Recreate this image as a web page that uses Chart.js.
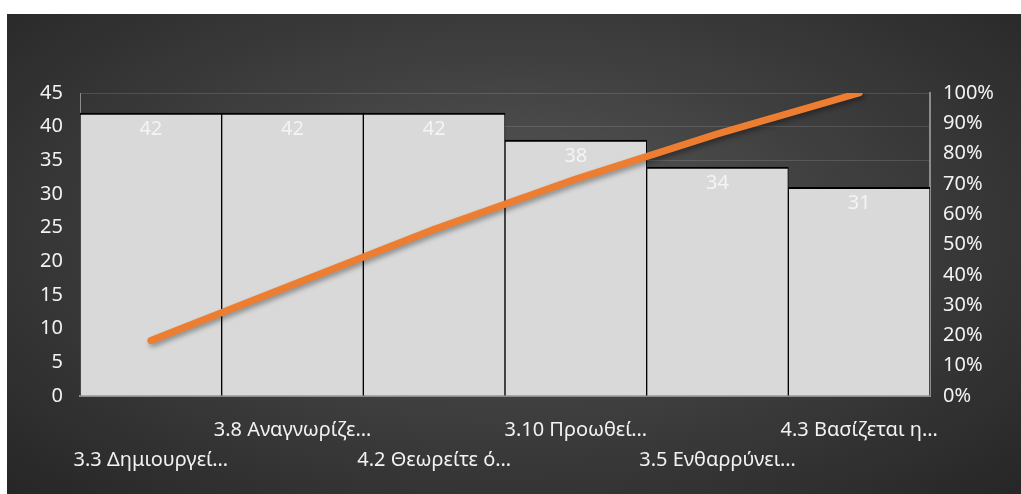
<!DOCTYPE html>
<html>
<head>
<meta charset="utf-8">
<script src="https://cdn.jsdelivr.net/npm/chart.js@4"></script>
<style>
    body { margin: 0; background: #fff; }
    #box {
        position: absolute; left: 7px; top: 14px; width: 1014px; height: 480px;
        background: radial-gradient(ellipse at 50% 45%, #5a5a5a 0%, #404040 45%, #262626 100%);
    }
</style>
</head>
<body>
<div id="box"><canvas id="pareto" width="1014" height="480"></canvas></div>
<script>
// categories (long names are cut off the same way in the chart)
const categories = ['3.3 Δημιουργεί…', '3.8 Αναγνωρίζε…', '4.2 Θεωρείτε ό…', '3.10 Προωθεί…', '3.5 Ενθαρρύνει…', '4.3 Βασίζεται η…'];
// counts per item
const counts = [42, 42, 42, 38, 34, 31];
// running share of the total, 0..1
const cumulative = [0.183, 0.367, 0.550, 0.716, 0.865, 1.0];
// axis ticks
const leftTicks = { min: 0, max: 45, step: 5 };
const rightTicks = { min: 0, max: 1, step: 0.1 };

Chart.defaults.font.family = "'Noto Sans', sans-serif";
Chart.defaults.font.size = 20;
Chart.defaults.color = '#f2f2f2';

// every other label goes on a second line so the long names don't collide
const xLabels = categories.map((c, i) => i % 2 === 0 ? ['', c] : [c]);

// value labels inside the top of each bar
const barValues = {
    id: 'barValues',
    afterDatasetDraw(chart, args) {
        if (args.index !== 0) return;
        const ctx = chart.ctx;
        ctx.save();
        ctx.fillStyle = '#f4f4f4';
        ctx.font = "20px 'Noto Sans', sans-serif";
        ctx.textAlign = 'center';
        ctx.textBaseline = 'middle';
        args.meta.data.forEach((bar, i) => {
            ctx.fillText(counts[i], bar.x, bar.y + 16);
        });
        ctx.restore();
    }
};

// soft shadow under the orange line
const lineShadow = {
    id: 'lineShadow',
    beforeDatasetDraw(chart, args) {
        if (args.index !== 1) return;
        const ctx = chart.ctx;
        ctx.save();
        ctx.shadowColor = 'rgba(0,0,0,0.35)';
        ctx.shadowBlur = 5;
        ctx.shadowOffsetX = 2;
        ctx.shadowOffsetY = 3;
    },
    afterDatasetDraw(chart, args) {
        if (args.index !== 1) return;
        chart.ctx.restore();
    }
};

new Chart(document.getElementById('pareto'), {
    type: 'bar',
    data: {
        labels: xLabels,
        datasets: [
            {
                type: 'bar',
                data: counts,
                backgroundColor: '#d9d9d9',
                borderColor: '#000',
                borderWidth: { top: 2, left: 1, right: 1, bottom: 0 },
                borderSkipped: false,
                categoryPercentage: 1,
                barPercentage: 1,
                yAxisID: 'y',
                order: 1
            },
            {
                type: 'line',
                data: cumulative,
                borderColor: '#ed7d31',
                borderWidth: 7,
                borderCapStyle: 'round',
                borderJoinStyle: 'round',
                pointRadius: 0,
                tension: 0,
                yAxisID: 'y1',
                order: 0
            }
        ]
    },
    options: {
        responsive: false,
        animation: false,
        devicePixelRatio: 1,
        layout: { padding: { top: 79, left: 0, right: 0, bottom: 0 } },
        plugins: { legend: { display: false }, tooltip: { enabled: false } },
        scales: {
            x: {
                grid: { display: false, drawTicks: false },
                border: { color: '#8c8c8c', width: 2 },
                ticks: { autoSkip: false, maxRotation: 0, minRotation: 0, padding: 19,
                         font: { size: 20, lineHeight: 30 / 20 } },
                afterFit: scale => { scale.height = 98; }
            },
            y: {
                position: 'left',
                min: leftTicks.min, max: leftTicks.max,
                grid: { color: 'rgba(255,255,255,0.13)', drawTicks: false },
                border: { color: '#8c8c8c', width: 1 },
                ticks: { stepSize: leftTicks.step, padding: 17 },
                afterFit: scale => { scale.width = 73; }
            },
            y1: {
                position: 'right',
                min: rightTicks.min, max: rightTicks.max,
                grid: { display: false, drawTicks: false },
                border: { color: '#8c8c8c', width: 2 },
                ticks: { stepSize: rightTicks.step, padding: 13,
                         callback: v => Math.round(v * 100) + '%' },
                afterFit: scale => { scale.width = 91; }
            }
        }
    },
    plugins: [barValues, lineShadow]
});
</script>
</body>
</html>
